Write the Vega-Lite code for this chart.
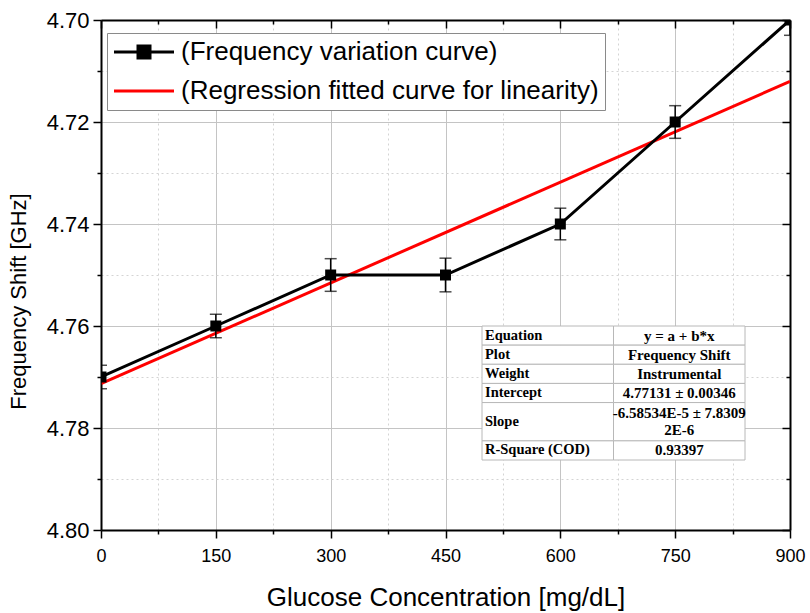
{
  "$schema": "https://vega.github.io/schema/vega-lite/v6.json",
  "width": 689,
  "height": 510,
  "autosize": "none",
  "padding": {"left": 101, "top": 20, "right": 20, "bottom": 83},
  "background": "white",
  "config": {
    "view": {"stroke": null},
    "font": "Liberation Sans",
    "legend": {
      "title": null, "orient": "none", "legendX": 6, "legendY": 13,
      "labelFontSize": 26, "labelColor": "black", "labelFont": "Liberation Sans", "labelLimit": 600,
      "symbolSize": 400, "symbolOpacity": 1, "symbolStrokeWidth": 3, "symbolOffset": 18, "labelOffset": 24, "rowPadding": 13,
      "padding": 6, "fillColor": "white", "strokeColor": "#8a8a8a", "cornerRadius": 0
    }
  },
  "datasets": {
    "freq": [
      {"x": 0, "y": 4.77, "err": 0.0023, "series": "(Frequency variation curve)"},
      {"x": 150, "y": 4.76, "err": 0.0023, "series": "(Frequency variation curve)"},
      {"x": 300, "y": 4.75, "err": 0.0032, "series": "(Frequency variation curve)"},
      {"x": 450, "y": 4.75, "err": 0.0033, "series": "(Frequency variation curve)"},
      {"x": 600, "y": 4.74, "err": 0.0031, "series": "(Frequency variation curve)"},
      {"x": 750, "y": 4.72, "err": 0.0032, "series": "(Frequency variation curve)"},
      {"x": 900, "y": 4.70, "err": 0.003, "series": "(Frequency variation curve)"}
    ],
    "fit": [
      {"x": 0, "y": 4.77131, "series": "(Regression fitted curve for linearity)"},
      {"x": 900, "y": 4.71204, "series": "(Regression fitted curve for linearity)"}
    ],
    "table": [
      {"r0": 0, "r1": 1, "label": "Equation", "value": "y = a + b*x"},
      {"r0": 1, "r1": 2, "label": "Plot", "value": "Frequency Shift"},
      {"r0": 2, "r1": 3, "label": "Weight", "value": "Instrumental"},
      {"r0": 3, "r1": 4, "label": "Intercept", "value": "4.77131 ± 0.00346"},
      {"r0": 4, "r1": 6, "label": "Slope", "value": "-6.58534E-5 ± 7.8309\n2E-6"},
      {"r0": 6, "r1": 7, "label": "R-Square (COD)", "value": "0.93397"}
    ]
  },
  "layer": [
    {
      "layer": [
        {
          "data": {"name": "freq"},
          "mark": {"type": "point", "opacity": 0},
          "encoding": {
            "x": {
              "field": "x", "type": "quantitative",
              "scale": {"domain": [0, 900], "nice": false, "zero": false},
              "axis": {
                "orient": "top", "title": null, "labels": false, "grid": false,
                "values": [0, 75, 150, 225, 300, 375, 450, 525, 600, 675, 750, 825, 900],
                "domainColor": "black", "domainWidth": 2, "tickColor": "black", "tickWidth": 1.5,
                "tickSize": {"condition": {"test": "datum.value % 150 === 0", "value": -8}, "value": -4}
              }
            },
            "y": {
              "field": "y", "type": "quantitative",
              "scale": {"domain": [4.70, 4.80], "nice": false, "zero": false, "reverse": true},
              "axis": {
                "orient": "right", "title": null, "labels": false, "grid": false,
                "values": [4.70, 4.71, 4.72, 4.73, 4.74, 4.75, 4.76, 4.77, 4.78, 4.79, 4.80],
                "domainColor": "black", "domainWidth": 2, "tickColor": "black", "tickWidth": 1.5,
                "tickSize": {"condition": {"test": "round(datum.value * 100) % 2 === 0", "value": -8}, "value": -4}
              }
            }
          }
        },
        {
          "data": {"name": "fit"},
          "mark": {"type": "line", "color": "#ff0000", "strokeWidth": 3, "clip": true},
          "encoding": {
            "x": {
              "field": "x", "type": "quantitative",
              "axis": {
                "orient": "bottom", "title": "Glucose Concentration [mg/dL]",
                "values": [0, 75, 150, 225, 300, 375, 450, 525, 600, 675, 750, 825, 900],
                "format": "d",
                "labelExpr": "datum.value % 150 === 0 ? datum.label : ''",
                "grid": true,
                "gridColor": {"condition": {"test": "datum.value % 150 === 0", "value": "#c4c4c4"}, "value": "#d4d4d4"},
                "gridDash": {"condition": {"test": "datum.value % 150 === 0", "value": []}, "value": [2, 3]},
                "gridWidth": 1,
                "domainColor": "black", "domainWidth": 2, "tickColor": "black", "tickWidth": 1.5,
                "tickSize": {"condition": {"test": "datum.value % 150 === 0", "value": 8}, "value": 4},
                "labelFontSize": 18, "labelColor": "black", "labelPadding": 9, "labelFlush": false,
                "titleFontSize": 26, "titleFontWeight": "normal", "titleColor": "black", "titlePadding": 19
              }
            },
            "y": {
              "field": "y", "type": "quantitative",
              "axis": {
                "orient": "left", "title": "Frequency Shift [GHz]",
                "values": [4.70, 4.71, 4.72, 4.73, 4.74, 4.75, 4.76, 4.77, 4.78, 4.79, 4.80],
                "labelExpr": "round(datum.value * 100) % 2 === 0 ? format(datum.value, '.2f') : ''",
                "grid": true,
                "gridColor": {"condition": {"test": "round(datum.value * 100) % 2 === 0", "value": "#c4c4c4"}, "value": "#d4d4d4"},
                "gridDash": {"condition": {"test": "round(datum.value * 100) % 2 === 0", "value": []}, "value": [2, 3]},
                "gridWidth": 1,
                "domainColor": "black", "domainWidth": 2, "tickColor": "black", "tickWidth": 1.5,
                "tickSize": {"condition": {"test": "round(datum.value * 100) % 2 === 0", "value": 8}, "value": 4},
                "labelFontSize": 22, "labelColor": "black", "labelPadding": 4, "labelFlush": false,
                "titleFontSize": 22, "titleFontWeight": "normal", "titleColor": "black", "titlePadding": 16,
                "titleY": 281
              }
            }
          }
        },
        {
          "data": {"name": "freq"},
          "mark": {"type": "line", "color": "black", "strokeWidth": 3, "clip": true},
          "encoding": {
            "x": {"field": "x", "type": "quantitative", "axis": null},
            "y": {"field": "y", "type": "quantitative", "axis": null}
          }
        },
        {
          "data": {"name": "freq"},
          "mark": {"type": "errorbar", "color": "black", "thickness": 1.5, "ticks": {"size": 12, "thickness": 1.5}, "clip": true},
          "encoding": {
            "x": {"field": "x", "type": "quantitative", "axis": null},
            "y": {"field": "y", "type": "quantitative", "axis": null},
            "yError": {"field": "err"}
          }
        },
        {
          "data": {"name": "freq"},
          "mark": {"type": "point", "shape": "square", "filled": true, "size": 121, "color": "black", "opacity": 1, "clip": true},
          "encoding": {
            "x": {"field": "x", "type": "quantitative", "axis": null},
            "y": {"field": "y", "type": "quantitative", "axis": null}
          }
        },
        {
          "data": {"name": "fit"},
          "mark": {"type": "point", "opacity": 0, "filled": true},
          "encoding": {
            "x": {"field": "x", "type": "quantitative", "axis": null},
            "y": {"field": "y", "type": "quantitative", "axis": null},
            "fill": {
              "field": "series", "type": "nominal",
              "scale": {"domain": ["(Frequency variation curve)", "(Regression fitted curve for linearity)"], "range": ["black", "#ff0000"]}
            },
            "stroke": {
              "field": "series", "type": "nominal",
              "scale": {"domain": ["(Frequency variation curve)", "(Regression fitted curve for linearity)"], "range": ["black", "#ff0000"]}
            },
            "shape": {
              "field": "series", "type": "nominal",
              "scale": {"domain": ["(Frequency variation curve)", "(Regression fitted curve for linearity)"], "range": ["M-3,0H3M-0.6,-0.6H0.6V0.6H-0.6Z", "M-3,0H3"]}
            }
          }
        }
      ],
      "resolve": {"axis": {"x": "independent", "y": "independent"}}
    },
    {
      "data": {"name": "table"},
      "transform": [
        {"calculate": "(datum.r0 + datum.r1) / 2", "as": "rm"},
        {"calculate": "datum.r1 - datum.r0 > 1 ? datum.rm - 0.45 : datum.rm", "as": "rv"}
      ],
      "layer": [
        {
          "mark": {"type": "rect", "fill": "white", "stroke": "#b8b8b8", "strokeWidth": 1},
          "encoding": {
            "x": {"datum": 0, "type": "quantitative", "scale": {"domain": [0, 2], "range": [381, 644]}, "axis": null},
            "x2": {"datum": 1},
            "y": {"field": "r0", "type": "quantitative", "scale": {"domain": [0, 7], "range": [306, 440]}, "axis": null},
            "y2": {"field": "r1"}
          }
        },
        {
          "mark": {"type": "rect", "fill": "white", "stroke": "#b8b8b8", "strokeWidth": 1},
          "encoding": {
            "x": {"datum": 1, "type": "quantitative"},
            "x2": {"datum": 2},
            "y": {"field": "r0", "type": "quantitative"},
            "y2": {"field": "r1"}
          }
        },
        {
          "mark": {"type": "text", "align": "left", "baseline": "middle", "dx": 3, "font": "Liberation Serif", "fontWeight": "bold", "fontSize": 14.5, "color": "black"},
          "encoding": {
            "x": {"datum": 0, "type": "quantitative"},
            "y": {"field": "rm", "type": "quantitative"},
            "text": {"field": "label"}
          }
        },
        {
          "mark": {"type": "text", "align": "center", "baseline": "middle", "font": "Liberation Serif", "fontWeight": "bold", "fontSize": 15, "color": "black", "lineBreak": "\n", "lineHeight": 17},
          "encoding": {
            "x": {"datum": 1.5, "type": "quantitative"},
            "y": {"field": "rv", "type": "quantitative"},
            "text": {"field": "value"}
          }
        }
      ]
    }
  ],
  "resolve": {"scale": {"x": "independent", "y": "independent"}}
}
